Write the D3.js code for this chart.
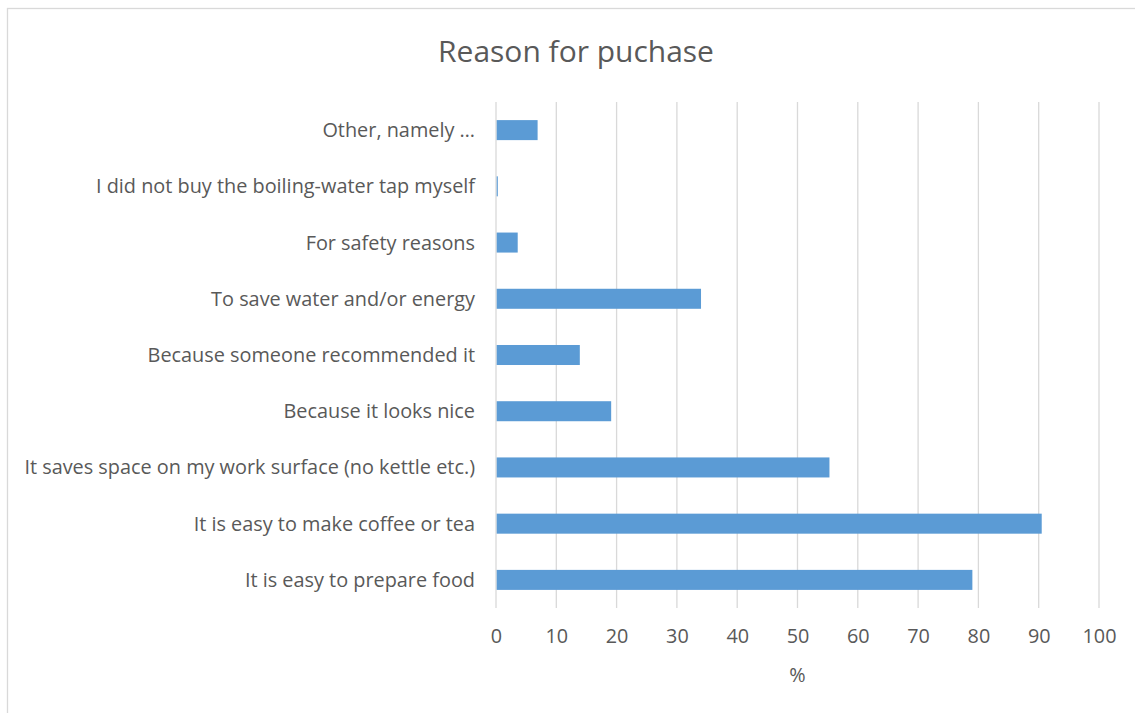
<!DOCTYPE html>
<html>
<head>
<meta charset="utf-8">
<script src="https://cdn.jsdelivr.net/npm/d3@7/dist/d3.min.js"></script>
<style>
  html, body { margin: 0; padding: 0; background: #fff; }
  svg { display: block; }
  text { font-family: "Open Sans", "Noto Sans", sans-serif; fill: #595959; }
</style>
</head>
<body>
<svg id="chart" width="1135" height="713"></svg>
<script>
// Survey answers, listed bottom to top as they appear on the chart
const categories = [
  "It is easy to prepare food",
  "It is easy to make coffee or tea",
  "It saves space on my work surface (no kettle etc.)",
  "Because it looks nice",
  "Because someone recommended it",
  "To save water and/or energy",
  "For safety reasons",
  "I did not buy the boiling-water tap myself",
  "Other, namely \u2026"
];
const percentages = [79.0, 90.5, 55.3, 19.1, 13.9, 34.0, 3.6, 0.3, 6.9];
const xTicks = [0, 10, 20, 30, 40, 50, 60, 70, 80, 90, 100];
const chartTitle = "Reason for puchase";
const axisTitle = "%";

const svg = d3.select("#chart");
const plot = { left: 496, right: 1099, top: 102, bottom: 608 };

// Chart area frame
svg.append("rect")
  .attr("x", 7.5).attr("y", 8.5)
  .attr("width", 1140).attr("height", 720)
  .attr("fill", "#fff").attr("stroke", "#d9d9d9").attr("stroke-width", 1.3);

const x = d3.scaleLinear().domain([0, 100]).range([plot.left, plot.right]);
const y = d3.scaleBand()
  .domain(categories.slice().reverse())
  .range([plot.top, plot.bottom])
  .paddingInner(0.644).paddingOuter(0.322);

// Vertical gridlines
svg.append("g")
  .selectAll("line")
  .data(xTicks)
  .join("line")
  .attr("x1", d => x(d)).attr("x2", d => x(d))
  .attr("y1", plot.top).attr("y2", plot.bottom)
  .attr("stroke", "#d9d9d9").attr("stroke-width", 1.3);

// Bars
svg.append("g")
  .selectAll("rect")
  .data(categories.map((c, i) => ({ c, v: percentages[i] })))
  .join("rect")
  .attr("x", x(0) + 0.7)
  .attr("y", d => y(d.c))
  .attr("width", d => Math.max(0, x(d.v) - x(0) - 0.7))
  .attr("height", y.bandwidth())
  .attr("fill", "#5b9bd5");

// Scale a font so a sample string spans the wanted width
function fitFont(sel, sample, target, base) {
  const t = svg.append("text").attr("font-size", base).text(sample);
  const w = t.node().getComputedTextLength();
  t.remove();
  return base * target / w;
}

const catSize = fitFont(svg, categories[2], 451, 16);
const tickSize = fitFont(svg, "100", 34, 16);

// Category labels
svg.append("g")
  .selectAll("text")
  .data(categories)
  .join("text")
  .attr("x", 475)
  .attr("y", d => y(d) + y.bandwidth() / 2)
  .attr("dy", "0.35em")
  .attr("text-anchor", "end")
  .attr("font-size", catSize)
  .text(d => d);

// X axis tick labels
const xAxis = d3.axisBottom(x).tickValues(xTicks).tickSize(0).tickPadding(0);
const axisG = svg.append("g").attr("transform", `translate(0,${636})`).call(xAxis);
axisG.select(".domain").remove();
axisG.selectAll("text")
  .attr("dy", "0.35em")
  .attr("y", 0)
  .attr("font-size", tickSize)
  .attr("fill", "#595959")
  .style("font-family", "'Open Sans', 'Noto Sans', sans-serif");

// Axis title
svg.append("text")
  .attr("x", (plot.left + plot.right) / 2)
  .attr("y", 675).attr("dy", "0.35em")
  .attr("text-anchor", "middle")
  .attr("font-size", tickSize)
  .text(axisTitle);

// Chart title
svg.append("text")
  .attr("x", 576).attr("y", 52).attr("dy", "0.35em")
  .attr("text-anchor", "middle")
  .attr("font-size", fitFont(svg, chartTitle, 276, 24))
  .text(chartTitle);
</script>
</body>
</html>
